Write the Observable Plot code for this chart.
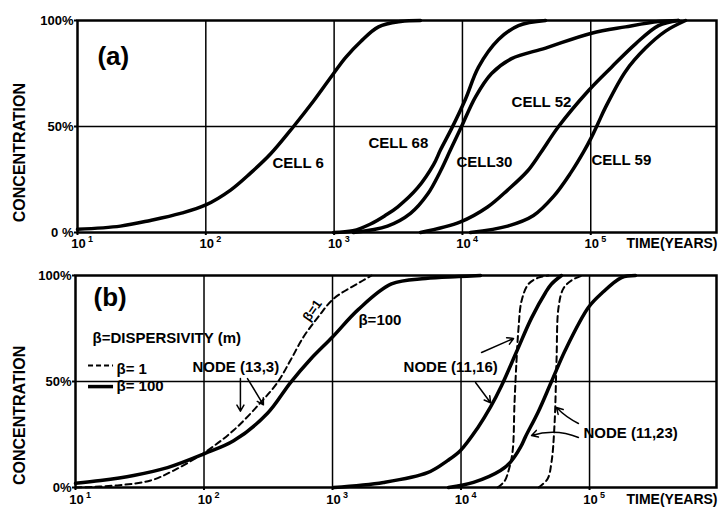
<!DOCTYPE html>
<html><head><meta charset="utf-8">
<script src="https://cdn.jsdelivr.net/npm/d3@7"></script>
<script src="https://cdn.jsdelivr.net/npm/@observablehq/plot@0.6"></script>
<style>
body{margin:0;background:#fff;}
#wrap{position:relative;width:718px;height:512px;overflow:hidden;}
#wrap svg{position:absolute;left:0;}
</style>
</head><body><div id="wrap"></div>
<script>
// ---------- Panel (a) data: time (years) and concentration (%) ----------
const cell6Time  = [10, 21.6, 37, 63.5, 100, 156, 223, 319, 483, 691, 990, 1227, 1607, 2218, 3296, 4710];
const cell6Conc  = [1.5, 3, 5.7, 9, 13, 20, 28, 37, 50, 62, 75, 82.5, 90, 97, 99.5, 100];
const cell68Time = [990, 1400, 1923, 2500, 3120, 4467, 5956, 6750, 8225, 10570, 13340, 19100, 27350, 44460];
const cell68Conc = [0, 0.8, 4, 8, 12, 21, 32, 39, 49, 63, 78, 91, 97.6, 100];
const cell30Time = [1416, 2606, 3937, 5343, 6750, 8072, 9840, 12650, 16870, 24150, 44460, 101400, 186600, 337300, 483000];
const cell30Conc = [0, 3, 9, 18, 29, 39, 50, 64, 75, 82, 87, 94, 97, 99.5, 100];
const cell52Time = [4710, 9660, 15700, 22490, 32150, 40600, 56100, 96200, 145200, 223500, 337300, 483000];
const cell52Conc = [0, 5, 12, 20, 29, 37.5, 50, 67, 78, 89, 97.6, 100];
const cell59Time = [11560, 22490, 35800, 51300, 69600, 87900, 101400, 115000, 130300, 186600, 267300, 382800, 548000];
const cell59Conc = [0, 3, 8, 17, 28, 38, 45, 52, 59, 76, 87, 95, 100];

// ---------- Panel (b) data ----------
const n133SolidTime = [10, 15.7, 28.3, 52, 101, 170, 312, 471, 674, 1000, 1592, 2877, 5297, 9570, 14190];
const n133SolidConc = [2, 3.3, 5.7, 9.4, 16, 22, 35, 49.5, 60.5, 71, 84, 96, 98.6, 99.5, 100];
const n133DashTime  = [10, 21.2, 38.4, 58, 101, 170, 275, 373, 471, 594, 764, 1019, 1652, 2014];
const n133DashConc  = [0, 1, 3.3, 8, 16.5, 27, 40, 49.5, 60, 71, 80, 89, 97, 100];
const n1116SolidTime = [1019, 2495, 5486, 7850, 9910, 13430, 16980, 20660, 27040, 35400, 45500, 50600, 60500];
const n1116SolidConc = [0, 2.4, 7, 12.7, 17.5, 28, 38, 48, 64, 80, 92, 96, 100];
const n1116DashTime  = [19230, 21820, 23450, 25190, 26080, 27040, 28000, 29580, 33520, 40100, 47960];
const n1116DashConc  = [0, 3, 8, 17, 40, 60, 75, 88, 96, 99, 100];
const n1123SolidTime = [8000, 12500, 20280, 24270, 29040, 31770, 40100, 50600, 65000, 98200, 123900, 177400, 228000];
const n1123SolidConc = [0, 2.4, 8, 12, 19, 24, 36, 50, 65, 85, 91.5, 99, 100];
const n1123DashTime  = [40100, 47100, 50600, 53430, 55360, 57400, 62800, 73800, 88300];
const n1123DashConc  = [0, 4, 12, 30, 60, 85, 94, 98, 100];

// ---------- ticks ----------
const xTicks = [10, 100, 1000, 10000, 100000];
const xExps = ["1", "2", "3", "4", "5"];
const gridX = [100, 1000, 10000, 100000];
const yTicks = [0, 50, 100];
const yLabelsA = ["0 %", "50%", "100%"];
const yLabelsB = ["0%", "50%", "100%"];

const FONT = "'Liberation Sans', Arial, 'DejaVu Sans', sans-serif";
const CURVE = "catmull-rom";

function rows(series, times, concs) {
  return times.map((t, i) => ({s: series, t, c: concs[i]}));
}

function axisMarks(yLabels, tickDy, expDy) {
  return [
    Plot.ruleX(gridX, {strokeWidth: 1.5, stroke: "#000"}),
    Plot.ruleY([50], {strokeWidth: 1.5, stroke: "#000"}),
    Plot.axisX({ticks: xTicks, tickFormat: () => "", tickSize: 3, label: null, strokeWidth: 2}),
    Plot.axisY({ticks: yTicks, tickFormat: () => "", tickSize: 3, label: null, strokeWidth: 2}),
    Plot.text(xTicks, {x: d => d, frameAnchor: "bottom", text: () => "10", dy: tickDy, dx: 1, fontSize: 13, fontWeight: "bold"}),
    Plot.text(xTicks, {x: d => d, frameAnchor: "bottom", text: (d, i) => xExps[i], dy: expDy, dx: 13, fontSize: 9, fontWeight: "bold"}),
    Plot.text(yTicks, {y: d => d, frameAnchor: "left", text: (d, i) => yLabels[i], textAnchor: "end", dx: -4, fontSize: 13, fontWeight: "bold"}),
    Plot.text(["TIME(YEARS)"], {frameAnchor: "bottom-right", textAnchor: "end", dy: tickDy, dx: 1, fontSize: 14, fontWeight: "bold", letterSpacing: "1.2px"}),
    Plot.frame({strokeWidth: 2.5, stroke: "#000"})
  ];
}

// ---------- Panel (a) ----------
const dataA = [
  ...rows("CELL 6", cell6Time, cell6Conc),
  ...rows("CELL 68", cell68Time, cell68Conc),
  ...rows("CELL 30", cell30Time, cell30Conc),
  ...rows("CELL 52", cell52Time, cell52Conc),
  ...rows("CELL 59", cell59Time, cell59Conc)
];
const labelsA = [
  {t: 331, c: 32.5, text: "CELL 6"},
  {t: 1854, c: 42, text: "CELL 68"},
  {t: 8995, c: 33, text: "CELL30"},
  {t: 24150, c: 61.3, text: "CELL 52"},
  {t: 101400, c: 34, text: "CELL 59"}
];

const plotA = Plot.plot({
  width: 718, height: 256,
  marginLeft: 77, marginRight: 2, marginTop: 20, marginBottom: 24,
  x: {type: "log", domain: [10, Math.pow(10, 5.98)]},
  y: {domain: [0, 100]},
  style: {fontFamily: FONT, background: "transparent", overflow: "visible", color: "#000"},
  marks: [
    ...axisMarks(yLabelsA, 15, 9),
    Plot.line(dataA, {x: "t", y: "c", z: "s", curve: CURVE, stroke: "#000", strokeWidth: 3.5}),
    Plot.text(labelsA, {x: "t", y: "c", text: "text", textAnchor: "start", fontSize: 15, fontWeight: "bold"}),
    Plot.text(["(a)"], {x: [14.3], y: [83], text: d => d, textAnchor: "start", fontSize: 26, fontWeight: "bold", letterSpacing: "2px"}),
    Plot.text(["CONCENTRATION"], {x: [10], y: [37.7], text: d => d, rotate: -90, dx: -58, fontSize: 16, fontWeight: "bold", letterSpacing: "0.6px"})
  ]
});
plotA.style.top = "0px";

// ---------- Panel (b) ----------
const solidB = [
  ...rows("13,3", n133SolidTime, n133SolidConc),
  ...rows("11,16", n1116SolidTime, n1116SolidConc),
  ...rows("11,23", n1123SolidTime, n1123SolidConc)
];
const dashB = [
  ...rows("13,3", n133DashTime, n133DashConc),
  ...rows("11,16", n1116DashTime, n1116DashConc),
  ...rows("11,23", n1123DashTime, n1123DashConc)
];
const labelsB = [
  {t: 81.4, c: 56.6, text: "NODE (13,3)"},
  {t: 3573, c: 56.6, text: "NODE (11,16)"},
  {t: 89800, c: 25.5, text: "NODE (11,23)"},
  {t: 1592, c: 78.8, text: "β=100"},
  {t: 20.85, c: 55.7, text: "β= 1"},
  {t: 20.85, c: 47.6, text: "β= 100"}
];
const arrowsB = [
  {x1: 192, y1: 51.4, x2: 192, y2: 36},
  {x1: 218, y1: 51.4, x2: 290, y2: 39},
  {x1: 14450, y1: 63.7, x2: 25650, y2: 70.3},
  {x1: 12970, y1: 49.5, x2: 16980, y2: 40}
];
const bentArrowB = [{x1: 82000, y1: 23.6, x2: 35400, y2: 24.5}];
const arrowC1 = [{x1: 82000, y1: 30.2, x2: 55300, y2: 37.7}];
const legendB = [
  {x1: 12.63, x2: 19.77, y: 57.5},
  {x1: 12.63, x2: 19.77, y: 47.6}
];

const plotB = Plot.plot({
  width: 718, height: 256,
  marginLeft: 75, marginRight: 2, marginTop: 19, marginBottom: 25,
  x: {type: "log", domain: [10, Math.pow(10, 5.988)]},
  y: {domain: [0, 100]},
  style: {fontFamily: FONT, background: "transparent", overflow: "visible", color: "#000"},
  marks: [
    ...axisMarks(yLabelsB, 16, 10),
    Plot.line(solidB, {x: "t", y: "c", z: "s", curve: CURVE, stroke: "#000", strokeWidth: 3.5}),
    Plot.line(dashB, {x: "t", y: "c", z: "s", curve: CURVE, stroke: "#000", strokeWidth: 2, strokeDasharray: "6,4"}),
    Plot.text(labelsB, {x: "t", y: "c", text: "text", textAnchor: "start", fontSize: 15, fontWeight: "bold"}),
    Plot.text(["β=1"], {x: [698], y: [83.5], text: d => d, rotate: -55, fontSize: 13, fontWeight: "bold"}),
    Plot.text(["β=DISPERSIVITY (m)"], {x: [13.56], y: [70.3], text: d => d, textAnchor: "start", fontSize: 15, fontWeight: "bold", letterSpacing: "1.8px"}),
    Plot.text(["(b)"], {x: [13.8], y: [89.6], text: d => d, textAnchor: "start", fontSize: 26, fontWeight: "bold", letterSpacing: "3px"}),
    Plot.ruleY([legendB[0]], {x1: "x1", x2: "x2", y: "y", strokeWidth: 2, strokeDasharray: "5,3", stroke: "#000"}),
    Plot.ruleY([legendB[1]], {x1: "x1", x2: "x2", y: "y", strokeWidth: 3.5, stroke: "#000"}),
    Plot.arrow(arrowsB, {x1: "x1", y1: "y1", x2: "x2", y2: "y2", strokeWidth: 1.5, headLength: 7, stroke: "#000"}),
    Plot.arrow(arrowC1, {x1: "x1", y1: "y1", x2: "x2", y2: "y2", bend: 10, strokeWidth: 1.5, headLength: 7, stroke: "#000"}),
    Plot.arrow(bentArrowB, {x1: "x1", y1: "y1", x2: "x2", y2: "y2", bend: -20, strokeWidth: 1.5, headLength: 7, stroke: "#000"}),
    Plot.text(["CONCENTRATION"], {x: [10], y: [34], text: d => d, rotate: -90, dx: -56, fontSize: 16, fontWeight: "bold", letterSpacing: "0.6px"})
  ]
});
plotB.style.top = "256px";

document.getElementById("wrap").append(plotA, plotB);
</script></body></html>
